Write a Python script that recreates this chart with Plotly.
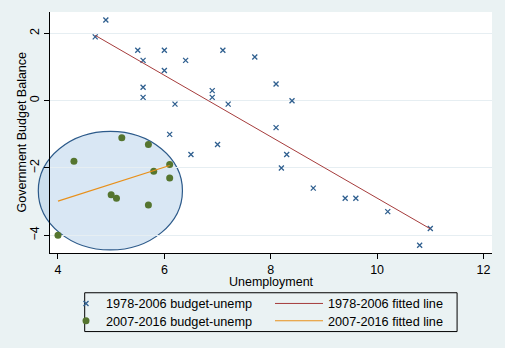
import numpy as np
import plotly.graph_objects as go

# ---- data ----
x_7806 = [4.9, 4.7, 5.5, 6.0, 5.6, 6.4, 6.0, 7.1, 5.6, 5.6, 6.9, 6.9, 6.2, 7.2, 6.1,
          7.7, 8.1, 8.4, 8.1, 7.0, 6.5, 8.3, 8.2, 8.8, 9.4, 9.6, 10.2, 11.0, 10.8]
y_7806 = [2.4, 1.9, 1.5, 1.5, 1.2, 1.2, 0.9, 1.5, 0.4, 0.1, 0.3, 0.1, -0.1, -0.1, -1.0,
          1.3, 0.5, 0.0, -0.8, -1.3, -1.6, -1.6, -2.0, -2.6, -2.9, -2.9, -3.3, -3.8, -4.3]
x_0716 = [5.2, 5.7, 4.3, 6.1, 5.8, 6.1, 5.0, 5.1, 5.7, 4.0]
y_0716 = [-1.1, -1.3, -1.8, -1.9, -2.1, -2.3, -2.8, -2.9, -3.1, -4.0]

x_ticks = [4, 6, 8, 10, 12]
y_ticks = [-4, -2, 0, 2]
x_title = "Unemployment"
y_title = "Government Budget Balance"

# highlight ellipse (data units)
ell_x = [3.63, 6.34]
ell_y = [-4.44, -0.91]

XR = [3.85, 12.16]
YR = [-4.53, 2.64]


def fit(xs, ys):
    b, a = np.polyfit(xs, ys, 1)
    xx = np.array([min(xs), max(xs)])
    return xx, a + b * xx


fx1, fy1 = fit(x_7806, y_7806)
fx2, fy2 = fit(x_0716, y_0716)

FONT = "Liberation Sans, Arial, Helvetica, sans-serif"
LFS = 12.7
W, H = 505, 348
ML, MR, MT, MB = 50, 13, 12, 95.4
PW, PH = W - ML - MR, H - MT - MB

fig = go.Figure()
fig.add_trace(go.Scatter(x=x_7806, y=y_7806, mode="markers", name="1978-2006 budget-unemp",
                         marker=dict(symbol="x-thin-open", size=5, color="#2f5f8f",
                                     line=dict(width=1.3, color="#2f5f8f")),
                         legend="legend"))
fig.add_trace(go.Scatter(x=fx1, y=fy1, mode="lines", name="1978-2006 fitted line",
                         line=dict(color="#a63c3c", width=1), legend="legend2"))
fig.add_trace(go.Scatter(x=x_0716, y=y_0716, mode="markers", name="2007-2016 budget-unemp",
                         marker=dict(symbol="circle", size=7, color="#55752f"),
                         legend="legend3"))
fig.add_trace(go.Scatter(x=fx2, y=fy2, mode="lines", name="2007-2016 fitted line",
                         line=dict(color="#e8901a", width=1.2), legend="legend4"))


def px(v):
    return (v - XR[0]) / (XR[1] - XR[0])


def py(v):
    return (v - YR[0]) / (YR[1] - YR[0])


shapes = [
    dict(type="rect", xref="paper", yref="paper", x0=0, x1=1, y0=0, y1=1,
         fillcolor="white", line=dict(width=0), layer="below"),
    dict(type="circle", xref="paper", yref="paper",
         x0=px(ell_x[0]), x1=px(ell_x[1]), y0=py(ell_y[0]), y1=py(ell_y[1]),
         fillcolor="rgba(160,195,228,0.4)", line=dict(color="#2c5a8a", width=1.2),
         layer="below"),
    dict(type="rect", xref="paper", yref="paper", x0=0.0785, x1=0.921, y0=-0.326, y1=-0.165,
         fillcolor="rgba(0,0,0,0)", line=dict(color="black", width=1)),
]

annotations = [
    dict(text=x_title, xref="paper", yref="paper", x=0.5, y=(H - MB - 282) / PH,
         xanchor="center", yanchor="middle", showarrow=False, font=dict(size=12.5)),
    dict(text=y_title, xref="paper", yref="paper", x=(21 - ML) / PW, y=0.5, textangle=-90,
         xanchor="center", yanchor="middle", showarrow=False, font=dict(size=12.5)),
]


def leg(xpx, ypx, iw):
    return dict(xref="container", yref="container", x=xpx / W, y=1 - ypx / H,
                xanchor="left", yanchor="middle", bgcolor="rgba(0,0,0,0)",
                font=dict(size=LFS), itemwidth=iw, tracegroupgap=0)


fig.update_layout(
    width=W, height=H,
    margin=dict(l=ML, r=MR, t=MT, b=MB, autoexpand=False),
    paper_bgcolor="#eaf2f3",
    plot_bgcolor="rgba(0,0,0,0)",
    font=dict(family=FONT, size=12.5, color="black"),
    shapes=shapes,
    annotations=annotations,
    showlegend=True,
    legend=leg(66, 303.7, 30),
    legend2=leg(270, 303.7, 48),
    legend3=leg(66, 321, 30),
    legend4=leg(270, 321, 48),
    xaxis=dict(range=XR, tickvals=x_ticks, showgrid=False, zeroline=False,
               showline=True, linecolor="black", linewidth=1, ticks="outside",
               ticklen=5, tickcolor="black", automargin=False),
    yaxis=dict(range=YR, tickvals=y_ticks, showgrid=True, gridcolor="#e6eef2", gridwidth=1,
               zeroline=False, showline=True, linecolor="black", linewidth=1,
               ticks="outside", ticklen=5, tickcolor="black", tickangle=-90,
               automargin=False),
)

fig.write_html("out.html")
